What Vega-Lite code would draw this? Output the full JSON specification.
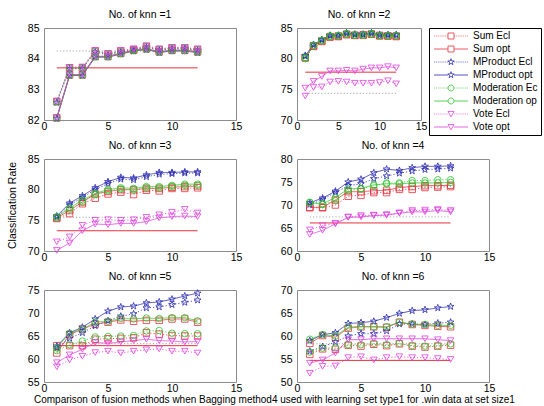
{
"$schema":"https://vega.github.io/schema/vega-lite/v6.json",
"padding":{"left":6,"top":9,"right":5,"bottom":3},
"background":"white",
"title":{"text":"Comparison of fusion methods when Bagging method4 used with learning set type1 for .win data at set size1","orient":"bottom","anchor":"middle","offset":1,"fontSize":10},
"config":{
 "font":"Liberation Sans",
 "view":{"stroke":"#8c8c8c","strokeWidth":1},
 "axis":{"labelFontSize":10.5,"labelColor":"#000","tickSize":0,"domain":false,"grid":false,"labelFlush":false,"titleFontSize":10.5,"titleFontWeight":"normal","titleColor":"#000"},
 "axisX":{"labelPadding":1},
 "axisY":{"labelPadding":5,"titlePadding":10},
 "title":{"fontSize":10.5,"fontWeight":"normal","color":"#000","offset":3},
 "legend":{"orient":"right","offset":8,"labelFontSize":10,"labelColor":"#000","symbolSize":36,"symbolStrokeWidth":0.8,"symbolOpacity":1,"symbolOffset":14,"labelOffset":17,"rowPadding":3,"padding":3,"fillColor":"#ffffff","strokeColor":"#000000"}
},
"datasets":{
"base":[
{"k":1,"t":"Ecl","x":1,"xe":12,"y":84.25},{"k":1,"t":"opt","x":1,"xe":12,"y":83.7},
{"k":2,"t":"Ecl","x":1,"xe":12,"y":74.35},{"k":2,"t":"opt","x":1,"xe":12,"y":77.8},
{"k":3,"t":"Ecl","x":1,"xe":12,"y":75.5},{"k":3,"t":"opt","x":1,"xe":12,"y":73.3},
{"k":4,"t":"Ecl","x":1,"xe":12,"y":67.4},{"k":4,"t":"opt","x":1,"xe":12,"y":66.1},
{"k":5,"t":"Ecl","x":1,"xe":12,"y":63.4},{"k":5,"t":"opt","x":1,"xe":12,"y":62.9},
{"k":6,"t":"Ecl","x":1,"xe":12,"y":58.3},{"k":6,"t":"opt","x":1,"xe":12,"y":54.7}
],
"pts":[
{"k":1,"s":"Sum Ecl","x":1,"y":82.6},{"k":1,"s":"Sum Ecl","x":2,"y":83.7},{"k":1,"s":"Sum Ecl","x":3,"y":83.7},{"k":1,"s":"Sum Ecl","x":4,"y":84.25},{"k":1,"s":"Sum Ecl","x":5,"y":84.15},{"k":1,"s":"Sum Ecl","x":6,"y":84.25},{"k":1,"s":"Sum Ecl","x":7,"y":84.3},{"k":1,"s":"Sum Ecl","x":8,"y":84.4},{"k":1,"s":"Sum Ecl","x":9,"y":84.3},{"k":1,"s":"Sum Ecl","x":10,"y":84.35},{"k":1,"s":"Sum Ecl","x":11,"y":84.35},{"k":1,"s":"Sum Ecl","x":12,"y":84.3},
{"k":1,"s":"Sum opt","x":1,"y":82.07},{"k":1,"s":"Sum opt","x":2,"y":83.47},{"k":1,"s":"Sum opt","x":3,"y":83.47},{"k":1,"s":"Sum opt","x":4,"y":84.07},{"k":1,"s":"Sum opt","x":5,"y":84.07},{"k":1,"s":"Sum opt","x":6,"y":84.17},{"k":1,"s":"Sum opt","x":7,"y":84.27},{"k":1,"s":"Sum opt","x":8,"y":84.32},{"k":1,"s":"Sum opt","x":9,"y":84.22},{"k":1,"s":"Sum opt","x":10,"y":84.27},{"k":1,"s":"Sum opt","x":11,"y":84.27},{"k":1,"s":"Sum opt","x":12,"y":84.22},
{"k":1,"s":"MProduct Ecl","x":1,"y":82.57},{"k":1,"s":"MProduct Ecl","x":2,"y":83.67},{"k":1,"s":"MProduct Ecl","x":3,"y":83.68},{"k":1,"s":"MProduct Ecl","x":4,"y":84.22},{"k":1,"s":"MProduct Ecl","x":5,"y":84.12},{"k":1,"s":"MProduct Ecl","x":6,"y":84.22},{"k":1,"s":"MProduct Ecl","x":7,"y":84.28},{"k":1,"s":"MProduct Ecl","x":8,"y":84.37},{"k":1,"s":"MProduct Ecl","x":9,"y":84.28},{"k":1,"s":"MProduct Ecl","x":10,"y":84.32},{"k":1,"s":"MProduct Ecl","x":11,"y":84.33},{"k":1,"s":"MProduct Ecl","x":12,"y":84.27},
{"k":1,"s":"MProduct opt","x":1,"y":82.05},{"k":1,"s":"MProduct opt","x":2,"y":83.45},{"k":1,"s":"MProduct opt","x":3,"y":83.45},{"k":1,"s":"MProduct opt","x":4,"y":84.05},{"k":1,"s":"MProduct opt","x":5,"y":84.05},{"k":1,"s":"MProduct opt","x":6,"y":84.15},{"k":1,"s":"MProduct opt","x":7,"y":84.25},{"k":1,"s":"MProduct opt","x":8,"y":84.3},{"k":1,"s":"MProduct opt","x":9,"y":84.2},{"k":1,"s":"MProduct opt","x":10,"y":84.25},{"k":1,"s":"MProduct opt","x":11,"y":84.25},{"k":1,"s":"MProduct opt","x":12,"y":84.2},
{"k":1,"s":"Moderation Ec","x":1,"y":82.59},{"k":1,"s":"Moderation Ec","x":2,"y":83.69},{"k":1,"s":"Moderation Ec","x":3,"y":83.7},{"k":1,"s":"Moderation Ec","x":4,"y":84.24},{"k":1,"s":"Moderation Ec","x":5,"y":84.14},{"k":1,"s":"Moderation Ec","x":6,"y":84.24},{"k":1,"s":"Moderation Ec","x":7,"y":84.29},{"k":1,"s":"Moderation Ec","x":8,"y":84.39},{"k":1,"s":"Moderation Ec","x":9,"y":84.29},{"k":1,"s":"Moderation Ec","x":10,"y":84.34},{"k":1,"s":"Moderation Ec","x":11,"y":84.34},{"k":1,"s":"Moderation Ec","x":12,"y":84.29},
{"k":1,"s":"Moderation op","x":1,"y":82.06},{"k":1,"s":"Moderation op","x":2,"y":83.46},{"k":1,"s":"Moderation op","x":3,"y":83.46},{"k":1,"s":"Moderation op","x":4,"y":84.06},{"k":1,"s":"Moderation op","x":5,"y":84.06},{"k":1,"s":"Moderation op","x":6,"y":84.16},{"k":1,"s":"Moderation op","x":7,"y":84.26},{"k":1,"s":"Moderation op","x":8,"y":84.31},{"k":1,"s":"Moderation op","x":9,"y":84.21},{"k":1,"s":"Moderation op","x":10,"y":84.26},{"k":1,"s":"Moderation op","x":11,"y":84.26},{"k":1,"s":"Moderation op","x":12,"y":84.21},
{"k":1,"s":"Vote Ecl","x":1,"y":82.62},{"k":1,"s":"Vote Ecl","x":2,"y":83.72},{"k":1,"s":"Vote Ecl","x":3,"y":83.73},{"k":1,"s":"Vote Ecl","x":4,"y":84.27},{"k":1,"s":"Vote Ecl","x":5,"y":84.17},{"k":1,"s":"Vote Ecl","x":6,"y":84.27},{"k":1,"s":"Vote Ecl","x":7,"y":84.32},{"k":1,"s":"Vote Ecl","x":8,"y":84.42},{"k":1,"s":"Vote Ecl","x":9,"y":84.32},{"k":1,"s":"Vote Ecl","x":10,"y":84.37},{"k":1,"s":"Vote Ecl","x":11,"y":84.37},{"k":1,"s":"Vote Ecl","x":12,"y":84.32},
{"k":1,"s":"Vote opt","x":1,"y":82.08},{"k":1,"s":"Vote opt","x":2,"y":83.48},{"k":1,"s":"Vote opt","x":3,"y":83.48},{"k":1,"s":"Vote opt","x":4,"y":84.08},{"k":1,"s":"Vote opt","x":5,"y":84.08},{"k":1,"s":"Vote opt","x":6,"y":84.18},{"k":1,"s":"Vote opt","x":7,"y":84.28},{"k":1,"s":"Vote opt","x":8,"y":84.33},{"k":1,"s":"Vote opt","x":9,"y":84.23},{"k":1,"s":"Vote opt","x":10,"y":84.28},{"k":1,"s":"Vote opt","x":11,"y":84.28},{"k":1,"s":"Vote opt","x":12,"y":84.23},
{"k":2,"s":"Sum Ecl","x":1,"y":80.1},{"k":2,"s":"Sum Ecl","x":2,"y":82.0},{"k":2,"s":"Sum Ecl","x":3,"y":82.8},{"k":2,"s":"Sum Ecl","x":4,"y":83.5},{"k":2,"s":"Sum Ecl","x":5,"y":83.6},{"k":2,"s":"Sum Ecl","x":6,"y":83.9},{"k":2,"s":"Sum Ecl","x":7,"y":83.8},{"k":2,"s":"Sum Ecl","x":8,"y":83.8},{"k":2,"s":"Sum Ecl","x":9,"y":84.0},{"k":2,"s":"Sum Ecl","x":10,"y":83.7},{"k":2,"s":"Sum Ecl","x":11,"y":83.7},{"k":2,"s":"Sum Ecl","x":12,"y":83.6},
{"k":2,"s":"Sum opt","x":1,"y":80.2},{"k":2,"s":"Sum opt","x":2,"y":82.1},{"k":2,"s":"Sum opt","x":3,"y":82.9},{"k":2,"s":"Sum opt","x":4,"y":83.6},{"k":2,"s":"Sum opt","x":5,"y":83.7},{"k":2,"s":"Sum opt","x":6,"y":84.0},{"k":2,"s":"Sum opt","x":7,"y":83.8},{"k":2,"s":"Sum opt","x":8,"y":83.9},{"k":2,"s":"Sum opt","x":9,"y":84.0},{"k":2,"s":"Sum opt","x":10,"y":83.8},{"k":2,"s":"Sum opt","x":11,"y":83.7},{"k":2,"s":"Sum opt","x":12,"y":83.7},
{"k":2,"s":"MProduct Ecl","x":1,"y":80.4},{"k":2,"s":"MProduct Ecl","x":2,"y":82.2},{"k":2,"s":"MProduct Ecl","x":3,"y":83.0},{"k":2,"s":"MProduct Ecl","x":4,"y":83.7},{"k":2,"s":"MProduct Ecl","x":5,"y":83.7},{"k":2,"s":"MProduct Ecl","x":6,"y":84.1},{"k":2,"s":"MProduct Ecl","x":7,"y":83.9},{"k":2,"s":"MProduct Ecl","x":8,"y":83.9},{"k":2,"s":"MProduct Ecl","x":9,"y":84.1},{"k":2,"s":"MProduct Ecl","x":10,"y":83.8},{"k":2,"s":"MProduct Ecl","x":11,"y":83.8},{"k":2,"s":"MProduct Ecl","x":12,"y":83.8},
{"k":2,"s":"MProduct opt","x":1,"y":80.5},{"k":2,"s":"MProduct opt","x":2,"y":82.3},{"k":2,"s":"MProduct opt","x":3,"y":83.1},{"k":2,"s":"MProduct opt","x":4,"y":83.8},{"k":2,"s":"MProduct opt","x":5,"y":83.8},{"k":2,"s":"MProduct opt","x":6,"y":84.2},{"k":2,"s":"MProduct opt","x":7,"y":84.0},{"k":2,"s":"MProduct opt","x":8,"y":84.0},{"k":2,"s":"MProduct opt","x":9,"y":84.2},{"k":2,"s":"MProduct opt","x":10,"y":83.9},{"k":2,"s":"MProduct opt","x":11,"y":83.9},{"k":2,"s":"MProduct opt","x":12,"y":83.9},
{"k":2,"s":"Moderation Ec","x":1,"y":80.0},{"k":2,"s":"Moderation Ec","x":2,"y":82.1},{"k":2,"s":"Moderation Ec","x":3,"y":82.9},{"k":2,"s":"Moderation Ec","x":4,"y":83.6},{"k":2,"s":"Moderation Ec","x":5,"y":83.7},{"k":2,"s":"Moderation Ec","x":6,"y":84.0},{"k":2,"s":"Moderation Ec","x":7,"y":83.8},{"k":2,"s":"Moderation Ec","x":8,"y":83.8},{"k":2,"s":"Moderation Ec","x":9,"y":84.0},{"k":2,"s":"Moderation Ec","x":10,"y":83.7},{"k":2,"s":"Moderation Ec","x":11,"y":83.7},{"k":2,"s":"Moderation Ec","x":12,"y":83.7},
{"k":2,"s":"Moderation op","x":1,"y":80.2},{"k":2,"s":"Moderation op","x":2,"y":82.2},{"k":2,"s":"Moderation op","x":3,"y":83.0},{"k":2,"s":"Moderation op","x":4,"y":83.7},{"k":2,"s":"Moderation op","x":5,"y":83.8},{"k":2,"s":"Moderation op","x":6,"y":84.1},{"k":2,"s":"Moderation op","x":7,"y":83.9},{"k":2,"s":"Moderation op","x":8,"y":83.9},{"k":2,"s":"Moderation op","x":9,"y":84.1},{"k":2,"s":"Moderation op","x":10,"y":83.8},{"k":2,"s":"Moderation op","x":11,"y":83.8},{"k":2,"s":"Moderation op","x":12,"y":83.8},
{"k":2,"s":"Vote Ecl","x":1,"y":73.9},{"k":2,"s":"Vote Ecl","x":2,"y":75.3},{"k":2,"s":"Vote Ecl","x":3,"y":75.4},{"k":2,"s":"Vote Ecl","x":4,"y":76.2},{"k":2,"s":"Vote Ecl","x":5,"y":76.3},{"k":2,"s":"Vote Ecl","x":6,"y":76.2},{"k":2,"s":"Vote Ecl","x":7,"y":76.0},{"k":2,"s":"Vote Ecl","x":8,"y":76.0},{"k":2,"s":"Vote Ecl","x":9,"y":76.0},{"k":2,"s":"Vote Ecl","x":10,"y":76.1},{"k":2,"s":"Vote Ecl","x":11,"y":76.4},{"k":2,"s":"Vote Ecl","x":12,"y":75.9},
{"k":2,"s":"Vote opt","x":1,"y":75.2},{"k":2,"s":"Vote opt","x":2,"y":76.3},{"k":2,"s":"Vote opt","x":3,"y":77.1},{"k":2,"s":"Vote opt","x":4,"y":78.0},{"k":2,"s":"Vote opt","x":5,"y":78.0},{"k":2,"s":"Vote opt","x":6,"y":78.1},{"k":2,"s":"Vote opt","x":7,"y":78.0},{"k":2,"s":"Vote opt","x":8,"y":78.3},{"k":2,"s":"Vote opt","x":9,"y":78.5},{"k":2,"s":"Vote opt","x":10,"y":78.5},{"k":2,"s":"Vote opt","x":11,"y":78.7},{"k":2,"s":"Vote opt","x":12,"y":78.5},
{"k":3,"s":"Sum Ecl","x":1,"y":75.3},{"k":3,"s":"Sum Ecl","x":2,"y":76.1},{"k":3,"s":"Sum Ecl","x":3,"y":77.7},{"k":3,"s":"Sum Ecl","x":4,"y":78.6},{"k":3,"s":"Sum Ecl","x":5,"y":79.3},{"k":3,"s":"Sum Ecl","x":6,"y":79.6},{"k":3,"s":"Sum Ecl","x":7,"y":79.2},{"k":3,"s":"Sum Ecl","x":8,"y":79.9},{"k":3,"s":"Sum Ecl","x":9,"y":79.8},{"k":3,"s":"Sum Ecl","x":10,"y":80.2},{"k":3,"s":"Sum Ecl","x":11,"y":80.2},{"k":3,"s":"Sum Ecl","x":12,"y":80.3},
{"k":3,"s":"Sum opt","x":1,"y":75.4},{"k":3,"s":"Sum opt","x":2,"y":76.6},{"k":3,"s":"Sum opt","x":3,"y":78.0},{"k":3,"s":"Sum opt","x":4,"y":79.3},{"k":3,"s":"Sum opt","x":5,"y":79.7},{"k":3,"s":"Sum opt","x":6,"y":80.0},{"k":3,"s":"Sum opt","x":7,"y":80.0},{"k":3,"s":"Sum opt","x":8,"y":80.2},{"k":3,"s":"Sum opt","x":9,"y":80.2},{"k":3,"s":"Sum opt","x":10,"y":80.4},{"k":3,"s":"Sum opt","x":11,"y":80.5},{"k":3,"s":"Sum opt","x":12,"y":80.6},
{"k":3,"s":"MProduct Ecl","x":1,"y":75.5},{"k":3,"s":"MProduct Ecl","x":2,"y":77.5},{"k":3,"s":"MProduct Ecl","x":3,"y":78.7},{"k":3,"s":"MProduct Ecl","x":4,"y":80.0},{"k":3,"s":"MProduct Ecl","x":5,"y":81.0},{"k":3,"s":"MProduct Ecl","x":6,"y":81.7},{"k":3,"s":"MProduct Ecl","x":7,"y":81.6},{"k":3,"s":"MProduct Ecl","x":8,"y":82.1},{"k":3,"s":"MProduct Ecl","x":9,"y":82.5},{"k":3,"s":"MProduct Ecl","x":10,"y":82.6},{"k":3,"s":"MProduct Ecl","x":11,"y":82.7},{"k":3,"s":"MProduct Ecl","x":12,"y":82.7},
{"k":3,"s":"MProduct opt","x":1,"y":75.7},{"k":3,"s":"MProduct opt","x":2,"y":77.8},{"k":3,"s":"MProduct opt","x":3,"y":79.0},{"k":3,"s":"MProduct opt","x":4,"y":80.3},{"k":3,"s":"MProduct opt","x":5,"y":81.3},{"k":3,"s":"MProduct opt","x":6,"y":82.0},{"k":3,"s":"MProduct opt","x":7,"y":81.9},{"k":3,"s":"MProduct opt","x":8,"y":82.4},{"k":3,"s":"MProduct opt","x":9,"y":82.8},{"k":3,"s":"MProduct opt","x":10,"y":82.8},{"k":3,"s":"MProduct opt","x":11,"y":82.9},{"k":3,"s":"MProduct opt","x":12,"y":82.9},
{"k":3,"s":"Moderation Ec","x":1,"y":75.4},{"k":3,"s":"Moderation Ec","x":2,"y":76.8},{"k":3,"s":"Moderation Ec","x":3,"y":78.0},{"k":3,"s":"Moderation Ec","x":4,"y":79.2},{"k":3,"s":"Moderation Ec","x":5,"y":79.8},{"k":3,"s":"Moderation Ec","x":6,"y":80.1},{"k":3,"s":"Moderation Ec","x":7,"y":79.9},{"k":3,"s":"Moderation Ec","x":8,"y":80.3},{"k":3,"s":"Moderation Ec","x":9,"y":80.3},{"k":3,"s":"Moderation Ec","x":10,"y":80.5},{"k":3,"s":"Moderation Ec","x":11,"y":80.7},{"k":3,"s":"Moderation Ec","x":12,"y":80.7},
{"k":3,"s":"Moderation op","x":1,"y":75.6},{"k":3,"s":"Moderation op","x":2,"y":77.0},{"k":3,"s":"Moderation op","x":3,"y":78.3},{"k":3,"s":"Moderation op","x":4,"y":79.4},{"k":3,"s":"Moderation op","x":5,"y":80.0},{"k":3,"s":"Moderation op","x":6,"y":80.3},{"k":3,"s":"Moderation op","x":7,"y":80.2},{"k":3,"s":"Moderation op","x":8,"y":80.5},{"k":3,"s":"Moderation op","x":9,"y":80.5},{"k":3,"s":"Moderation op","x":10,"y":80.7},{"k":3,"s":"Moderation op","x":11,"y":80.9},{"k":3,"s":"Moderation op","x":12,"y":80.9},
{"k":3,"s":"Vote Ecl","x":1,"y":71.5},{"k":3,"s":"Vote Ecl","x":2,"y":72.3},{"k":3,"s":"Vote Ecl","x":3,"y":74.2},{"k":3,"s":"Vote Ecl","x":4,"y":75.0},{"k":3,"s":"Vote Ecl","x":5,"y":75.1},{"k":3,"s":"Vote Ecl","x":6,"y":75.0},{"k":3,"s":"Vote Ecl","x":7,"y":75.1},{"k":3,"s":"Vote Ecl","x":8,"y":75.5},{"k":3,"s":"Vote Ecl","x":9,"y":75.9},{"k":3,"s":"Vote Ecl","x":10,"y":76.3},{"k":3,"s":"Vote Ecl","x":11,"y":76.8},{"k":3,"s":"Vote Ecl","x":12,"y":76.2},
{"k":3,"s":"Vote opt","x":1,"y":70.1},{"k":3,"s":"Vote opt","x":2,"y":71.3},{"k":3,"s":"Vote opt","x":3,"y":73.3},{"k":3,"s":"Vote opt","x":4,"y":74.4},{"k":3,"s":"Vote opt","x":5,"y":74.3},{"k":3,"s":"Vote opt","x":6,"y":74.5},{"k":3,"s":"Vote opt","x":7,"y":74.5},{"k":3,"s":"Vote opt","x":8,"y":74.8},{"k":3,"s":"Vote opt","x":9,"y":75.4},{"k":3,"s":"Vote opt","x":10,"y":75.6},{"k":3,"s":"Vote opt","x":11,"y":75.7},{"k":3,"s":"Vote opt","x":12,"y":75.6},
{"k":4,"s":"Sum Ecl","x":1,"y":69.4},{"k":4,"s":"Sum Ecl","x":2,"y":69.4},{"k":4,"s":"Sum Ecl","x":3,"y":70.0},{"k":4,"s":"Sum Ecl","x":4,"y":71.9},{"k":4,"s":"Sum Ecl","x":5,"y":72.1},{"k":4,"s":"Sum Ecl","x":6,"y":72.7},{"k":4,"s":"Sum Ecl","x":7,"y":72.7},{"k":4,"s":"Sum Ecl","x":8,"y":73.4},{"k":4,"s":"Sum Ecl","x":9,"y":73.4},{"k":4,"s":"Sum Ecl","x":10,"y":73.8},{"k":4,"s":"Sum Ecl","x":11,"y":73.9},{"k":4,"s":"Sum Ecl","x":12,"y":74.0},
{"k":4,"s":"Sum opt","x":1,"y":69.5},{"k":4,"s":"Sum opt","x":2,"y":69.5},{"k":4,"s":"Sum opt","x":3,"y":71.1},{"k":4,"s":"Sum opt","x":4,"y":72.9},{"k":4,"s":"Sum opt","x":5,"y":72.9},{"k":4,"s":"Sum opt","x":6,"y":73.1},{"k":4,"s":"Sum opt","x":7,"y":73.2},{"k":4,"s":"Sum opt","x":8,"y":73.8},{"k":4,"s":"Sum opt","x":9,"y":74.0},{"k":4,"s":"Sum opt","x":10,"y":74.2},{"k":4,"s":"Sum opt","x":11,"y":74.2},{"k":4,"s":"Sum opt","x":12,"y":74.3},
{"k":4,"s":"MProduct Ecl","x":1,"y":70.1},{"k":4,"s":"MProduct Ecl","x":2,"y":71.2},{"k":4,"s":"MProduct Ecl","x":3,"y":72.7},{"k":4,"s":"MProduct Ecl","x":4,"y":74.2},{"k":4,"s":"MProduct Ecl","x":5,"y":74.6},{"k":4,"s":"MProduct Ecl","x":6,"y":75.7},{"k":4,"s":"MProduct Ecl","x":7,"y":76.3},{"k":4,"s":"MProduct Ecl","x":8,"y":76.9},{"k":4,"s":"MProduct Ecl","x":9,"y":77.4},{"k":4,"s":"MProduct Ecl","x":10,"y":77.7},{"k":4,"s":"MProduct Ecl","x":11,"y":77.8},{"k":4,"s":"MProduct Ecl","x":12,"y":78.0},
{"k":4,"s":"MProduct opt","x":1,"y":70.5},{"k":4,"s":"MProduct opt","x":2,"y":71.5},{"k":4,"s":"MProduct opt","x":3,"y":73.0},{"k":4,"s":"MProduct opt","x":4,"y":75.0},{"k":4,"s":"MProduct opt","x":5,"y":75.6},{"k":4,"s":"MProduct opt","x":6,"y":77.0},{"k":4,"s":"MProduct opt","x":7,"y":77.8},{"k":4,"s":"MProduct opt","x":8,"y":77.5},{"k":4,"s":"MProduct opt","x":9,"y":78.1},{"k":4,"s":"MProduct opt","x":10,"y":78.4},{"k":4,"s":"MProduct opt","x":11,"y":78.4},{"k":4,"s":"MProduct opt","x":12,"y":78.5},
{"k":4,"s":"Moderation Ec","x":1,"y":70.6},{"k":4,"s":"Moderation Ec","x":2,"y":70.1},{"k":4,"s":"Moderation Ec","x":3,"y":71.0},{"k":4,"s":"Moderation Ec","x":4,"y":73.1},{"k":4,"s":"Moderation Ec","x":5,"y":73.5},{"k":4,"s":"Moderation Ec","x":6,"y":74.2},{"k":4,"s":"Moderation Ec","x":7,"y":74.8},{"k":4,"s":"Moderation Ec","x":8,"y":74.8},{"k":4,"s":"Moderation Ec","x":9,"y":75.3},{"k":4,"s":"Moderation Ec","x":10,"y":75.3},{"k":4,"s":"Moderation Ec","x":11,"y":75.5},{"k":4,"s":"Moderation Ec","x":12,"y":75.5},
{"k":4,"s":"Moderation op","x":1,"y":70.5},{"k":4,"s":"Moderation op","x":2,"y":70.3},{"k":4,"s":"Moderation op","x":3,"y":71.6},{"k":4,"s":"Moderation op","x":4,"y":73.5},{"k":4,"s":"Moderation op","x":5,"y":73.6},{"k":4,"s":"Moderation op","x":6,"y":74.4},{"k":4,"s":"Moderation op","x":7,"y":74.6},{"k":4,"s":"Moderation op","x":8,"y":74.6},{"k":4,"s":"Moderation op","x":9,"y":74.8},{"k":4,"s":"Moderation op","x":10,"y":74.8},{"k":4,"s":"Moderation op","x":11,"y":74.8},{"k":4,"s":"Moderation op","x":12,"y":74.9},
{"k":4,"s":"Vote Ecl","x":1,"y":64.6},{"k":4,"s":"Vote Ecl","x":2,"y":65.5},{"k":4,"s":"Vote Ecl","x":3,"y":66.0},{"k":4,"s":"Vote Ecl","x":4,"y":67.4},{"k":4,"s":"Vote Ecl","x":5,"y":67.7},{"k":4,"s":"Vote Ecl","x":6,"y":67.8},{"k":4,"s":"Vote Ecl","x":7,"y":67.9},{"k":4,"s":"Vote Ecl","x":8,"y":68.3},{"k":4,"s":"Vote Ecl","x":9,"y":68.8},{"k":4,"s":"Vote Ecl","x":10,"y":68.9},{"k":4,"s":"Vote Ecl","x":11,"y":69.0},{"k":4,"s":"Vote Ecl","x":12,"y":68.8},
{"k":4,"s":"Vote opt","x":1,"y":63.6},{"k":4,"s":"Vote opt","x":2,"y":64.5},{"k":4,"s":"Vote opt","x":3,"y":65.9},{"k":4,"s":"Vote opt","x":4,"y":67.3},{"k":4,"s":"Vote opt","x":5,"y":67.4},{"k":4,"s":"Vote opt","x":6,"y":67.7},{"k":4,"s":"Vote opt","x":7,"y":67.8},{"k":4,"s":"Vote opt","x":8,"y":68.2},{"k":4,"s":"Vote opt","x":9,"y":68.5},{"k":4,"s":"Vote opt","x":10,"y":68.5},{"k":4,"s":"Vote opt","x":11,"y":68.8},{"k":4,"s":"Vote opt","x":12,"y":68.5},
{"k":5,"s":"Sum Ecl","x":1,"y":62.9},{"k":5,"s":"Sum Ecl","x":2,"y":62.9},{"k":5,"s":"Sum Ecl","x":3,"y":62.9},{"k":5,"s":"Sum Ecl","x":4,"y":64.3},{"k":5,"s":"Sum Ecl","x":5,"y":64.4},{"k":5,"s":"Sum Ecl","x":6,"y":64.5},{"k":5,"s":"Sum Ecl","x":7,"y":64.6},{"k":5,"s":"Sum Ecl","x":8,"y":65.7},{"k":5,"s":"Sum Ecl","x":9,"y":65.4},{"k":5,"s":"Sum Ecl","x":10,"y":65.1},{"k":5,"s":"Sum Ecl","x":11,"y":65.0},{"k":5,"s":"Sum Ecl","x":12,"y":65.0},
{"k":5,"s":"Sum opt","x":1,"y":61.3},{"k":5,"s":"Sum opt","x":2,"y":65.3},{"k":5,"s":"Sum opt","x":3,"y":66.5},{"k":5,"s":"Sum opt","x":4,"y":67.6},{"k":5,"s":"Sum opt","x":5,"y":68.0},{"k":5,"s":"Sum opt","x":6,"y":68.5},{"k":5,"s":"Sum opt","x":7,"y":68.2},{"k":5,"s":"Sum opt","x":8,"y":68.4},{"k":5,"s":"Sum opt","x":9,"y":68.4},{"k":5,"s":"Sum opt","x":10,"y":68.7},{"k":5,"s":"Sum opt","x":11,"y":68.7},{"k":5,"s":"Sum opt","x":12,"y":68.0},
{"k":5,"s":"MProduct Ecl","x":1,"y":62.4},{"k":5,"s":"MProduct Ecl","x":2,"y":64.5},{"k":5,"s":"MProduct Ecl","x":3,"y":65.7},{"k":5,"s":"MProduct Ecl","x":4,"y":67.2},{"k":5,"s":"MProduct Ecl","x":5,"y":68.3},{"k":5,"s":"MProduct Ecl","x":6,"y":69.3},{"k":5,"s":"MProduct Ecl","x":7,"y":69.8},{"k":5,"s":"MProduct Ecl","x":8,"y":71.1},{"k":5,"s":"MProduct Ecl","x":9,"y":71.3},{"k":5,"s":"MProduct Ecl","x":10,"y":71.8},{"k":5,"s":"MProduct Ecl","x":11,"y":72.3},{"k":5,"s":"MProduct Ecl","x":12,"y":72.8},
{"k":5,"s":"MProduct opt","x":1,"y":62.8},{"k":5,"s":"MProduct opt","x":2,"y":65.7},{"k":5,"s":"MProduct opt","x":3,"y":66.9},{"k":5,"s":"MProduct opt","x":4,"y":68.7},{"k":5,"s":"MProduct opt","x":5,"y":70.4},{"k":5,"s":"MProduct opt","x":6,"y":71.3},{"k":5,"s":"MProduct opt","x":7,"y":71.5},{"k":5,"s":"MProduct opt","x":8,"y":72.2},{"k":5,"s":"MProduct opt","x":9,"y":72.4},{"k":5,"s":"MProduct opt","x":10,"y":73.0},{"k":5,"s":"MProduct opt","x":11,"y":73.7},{"k":5,"s":"MProduct opt","x":12,"y":74.3},
{"k":5,"s":"Moderation Ec","x":1,"y":61.8},{"k":5,"s":"Moderation Ec","x":2,"y":63.1},{"k":5,"s":"Moderation Ec","x":3,"y":63.9},{"k":5,"s":"Moderation Ec","x":4,"y":64.8},{"k":5,"s":"Moderation Ec","x":5,"y":64.9},{"k":5,"s":"Moderation Ec","x":6,"y":65.0},{"k":5,"s":"Moderation Ec","x":7,"y":65.1},{"k":5,"s":"Moderation Ec","x":8,"y":66.1},{"k":5,"s":"Moderation Ec","x":9,"y":66.2},{"k":5,"s":"Moderation Ec","x":10,"y":65.6},{"k":5,"s":"Moderation Ec","x":11,"y":65.5},{"k":5,"s":"Moderation Ec","x":12,"y":65.5},
{"k":5,"s":"Moderation op","x":1,"y":62.4},{"k":5,"s":"Moderation op","x":2,"y":65.6},{"k":5,"s":"Moderation op","x":3,"y":66.5},{"k":5,"s":"Moderation op","x":4,"y":68.0},{"k":5,"s":"Moderation op","x":5,"y":68.2},{"k":5,"s":"Moderation op","x":6,"y":68.8},{"k":5,"s":"Moderation op","x":7,"y":68.7},{"k":5,"s":"Moderation op","x":8,"y":68.9},{"k":5,"s":"Moderation op","x":9,"y":68.8},{"k":5,"s":"Moderation op","x":10,"y":69.0},{"k":5,"s":"Moderation op","x":11,"y":69.0},{"k":5,"s":"Moderation op","x":12,"y":68.3},
{"k":5,"s":"Vote Ecl","x":1,"y":58.3},{"k":5,"s":"Vote Ecl","x":2,"y":59.8},{"k":5,"s":"Vote Ecl","x":3,"y":60.6},{"k":5,"s":"Vote Ecl","x":4,"y":61.4},{"k":5,"s":"Vote Ecl","x":5,"y":61.7},{"k":5,"s":"Vote Ecl","x":6,"y":61.3},{"k":5,"s":"Vote Ecl","x":7,"y":61.7},{"k":5,"s":"Vote Ecl","x":8,"y":62.0},{"k":5,"s":"Vote Ecl","x":9,"y":62.2},{"k":5,"s":"Vote Ecl","x":10,"y":61.7},{"k":5,"s":"Vote Ecl","x":11,"y":61.7},{"k":5,"s":"Vote Ecl","x":12,"y":61.3},
{"k":5,"s":"Vote opt","x":1,"y":59.2},{"k":5,"s":"Vote opt","x":2,"y":60.9},{"k":5,"s":"Vote opt","x":3,"y":62.1},{"k":5,"s":"Vote opt","x":4,"y":63.6},{"k":5,"s":"Vote opt","x":5,"y":63.4},{"k":5,"s":"Vote opt","x":6,"y":63.7},{"k":5,"s":"Vote opt","x":7,"y":64.0},{"k":5,"s":"Vote opt","x":8,"y":64.3},{"k":5,"s":"Vote opt","x":9,"y":64.0},{"k":5,"s":"Vote opt","x":10,"y":63.9},{"k":5,"s":"Vote opt","x":11,"y":63.7},{"k":5,"s":"Vote opt","x":12,"y":63.8},
{"k":6,"s":"Sum Ecl","x":1,"y":56.0},{"k":6,"s":"Sum Ecl","x":2,"y":57.2},{"k":6,"s":"Sum Ecl","x":3,"y":57.1},{"k":6,"s":"Sum Ecl","x":4,"y":58.0},{"k":6,"s":"Sum Ecl","x":5,"y":57.8},{"k":6,"s":"Sum Ecl","x":6,"y":58.2},{"k":6,"s":"Sum Ecl","x":7,"y":57.9},{"k":6,"s":"Sum Ecl","x":8,"y":58.3},{"k":6,"s":"Sum Ecl","x":9,"y":57.8},{"k":6,"s":"Sum Ecl","x":10,"y":57.6},{"k":6,"s":"Sum Ecl","x":11,"y":57.8},{"k":6,"s":"Sum Ecl","x":12,"y":58.0},
{"k":6,"s":"Sum opt","x":1,"y":58.4},{"k":6,"s":"Sum opt","x":2,"y":60.1},{"k":6,"s":"Sum opt","x":3,"y":59.7},{"k":6,"s":"Sum opt","x":4,"y":61.7},{"k":6,"s":"Sum opt","x":5,"y":62.0},{"k":6,"s":"Sum opt","x":6,"y":62.0},{"k":6,"s":"Sum opt","x":7,"y":61.9},{"k":6,"s":"Sum opt","x":8,"y":63.0},{"k":6,"s":"Sum opt","x":9,"y":62.5},{"k":6,"s":"Sum opt","x":10,"y":62.3},{"k":6,"s":"Sum opt","x":11,"y":62.1},{"k":6,"s":"Sum opt","x":12,"y":62.0},
{"k":6,"s":"MProduct Ecl","x":1,"y":56.7},{"k":6,"s":"MProduct Ecl","x":2,"y":57.7},{"k":6,"s":"MProduct Ecl","x":3,"y":58.7},{"k":6,"s":"MProduct Ecl","x":4,"y":60.0},{"k":6,"s":"MProduct Ecl","x":5,"y":60.5},{"k":6,"s":"MProduct Ecl","x":6,"y":60.5},{"k":6,"s":"MProduct Ecl","x":7,"y":61.1},{"k":6,"s":"MProduct Ecl","x":8,"y":62.6},{"k":6,"s":"MProduct Ecl","x":9,"y":62.6},{"k":6,"s":"MProduct Ecl","x":10,"y":62.5},{"k":6,"s":"MProduct Ecl","x":11,"y":62.8},{"k":6,"s":"MProduct Ecl","x":12,"y":63.0},
{"k":6,"s":"MProduct opt","x":1,"y":59.0},{"k":6,"s":"MProduct opt","x":2,"y":60.3},{"k":6,"s":"MProduct opt","x":3,"y":60.7},{"k":6,"s":"MProduct opt","x":4,"y":62.7},{"k":6,"s":"MProduct opt","x":5,"y":62.9},{"k":6,"s":"MProduct opt","x":6,"y":63.2},{"k":6,"s":"MProduct opt","x":7,"y":64.0},{"k":6,"s":"MProduct opt","x":8,"y":64.9},{"k":6,"s":"MProduct opt","x":9,"y":65.5},{"k":6,"s":"MProduct opt","x":10,"y":65.7},{"k":6,"s":"MProduct opt","x":11,"y":66.1},{"k":6,"s":"MProduct opt","x":12,"y":66.4},
{"k":6,"s":"Moderation Ec","x":1,"y":56.5},{"k":6,"s":"Moderation Ec","x":2,"y":57.4},{"k":6,"s":"Moderation Ec","x":3,"y":57.4},{"k":6,"s":"Moderation Ec","x":4,"y":58.1},{"k":6,"s":"Moderation Ec","x":5,"y":58.1},{"k":6,"s":"Moderation Ec","x":6,"y":58.4},{"k":6,"s":"Moderation Ec","x":7,"y":58.1},{"k":6,"s":"Moderation Ec","x":8,"y":58.4},{"k":6,"s":"Moderation Ec","x":9,"y":57.9},{"k":6,"s":"Moderation Ec","x":10,"y":57.8},{"k":6,"s":"Moderation Ec","x":11,"y":57.9},{"k":6,"s":"Moderation Ec","x":12,"y":58.3},
{"k":6,"s":"Moderation op","x":1,"y":59.3},{"k":6,"s":"Moderation op","x":2,"y":60.3},{"k":6,"s":"Moderation op","x":3,"y":60.0},{"k":6,"s":"Moderation op","x":4,"y":61.9},{"k":6,"s":"Moderation op","x":5,"y":62.1},{"k":6,"s":"Moderation op","x":6,"y":62.0},{"k":6,"s":"Moderation op","x":7,"y":62.0},{"k":6,"s":"Moderation op","x":8,"y":63.0},{"k":6,"s":"Moderation op","x":9,"y":62.6},{"k":6,"s":"Moderation op","x":10,"y":62.5},{"k":6,"s":"Moderation op","x":11,"y":62.3},{"k":6,"s":"Moderation op","x":12,"y":62.3},
{"k":6,"s":"Vote Ecl","x":1,"y":51.9},{"k":6,"s":"Vote Ecl","x":2,"y":53.4},{"k":6,"s":"Vote Ecl","x":3,"y":53.5},{"k":6,"s":"Vote Ecl","x":4,"y":55.3},{"k":6,"s":"Vote Ecl","x":5,"y":55.5},{"k":6,"s":"Vote Ecl","x":6,"y":54.8},{"k":6,"s":"Vote Ecl","x":7,"y":55.3},{"k":6,"s":"Vote Ecl","x":8,"y":55.5},{"k":6,"s":"Vote Ecl","x":9,"y":55.3},{"k":6,"s":"Vote Ecl","x":10,"y":55.3},{"k":6,"s":"Vote Ecl","x":11,"y":55.1},{"k":6,"s":"Vote Ecl","x":12,"y":54.9},
{"k":6,"s":"Vote opt","x":1,"y":54.1},{"k":6,"s":"Vote opt","x":2,"y":54.8},{"k":6,"s":"Vote opt","x":3,"y":56.3},{"k":6,"s":"Vote opt","x":4,"y":59.2},{"k":6,"s":"Vote opt","x":5,"y":59.2},{"k":6,"s":"Vote opt","x":6,"y":59.4},{"k":6,"s":"Vote opt","x":7,"y":59.4},{"k":6,"s":"Vote opt","x":8,"y":59.4},{"k":6,"s":"Vote opt","x":9,"y":59.4},{"k":6,"s":"Vote opt","x":10,"y":59.4},{"k":6,"s":"Vote opt","x":11,"y":59.2},{"k":6,"s":"Vote opt","x":12,"y":59.0}
]},
"columns":2,
"spacing":{"row":39,"column":61},
"bounds":"flush",
"resolve":{"scale":{"x":"independent","y":"independent","color":"independent","stroke":"independent","shape":"independent","strokeDash":"independent"}},
"concat":[
{"title":"No. of knn =1","width":192,"height":92,
 "encoding":{"x":{"field":"x","type":"quantitative","scale":{"domain":[0,15],"nice":false},"axis":{"values":[0,5,10,15],"title":null}},"y":{"field":"y","type":"quantitative","scale":{"domain":[82,85],"nice":false,"zero":false},"axis":{"values":[82,83,84,85],"title":null}}},
 "layer":[
 {"data":{"name":"base"},"transform":[{"filter":"datum.k==1 && datum.t=='Ecl'"}],"mark":{"type":"rule","color":"#a8a8a8","strokeDash":[1.2,2],"strokeWidth":1},"encoding":{"x2":{"field":"xe"}}},
 {"data":{"name":"base"},"transform":[{"filter":"datum.k==1 && datum.t=='opt'"}],"mark":{"type":"rule","color":"#e8303c","strokeWidth":1},"encoding":{"x2":{"field":"xe"}}},
 {"data":{"name":"pts"},"transform":[{"filter":"datum.k==1"}],"mark":{"type":"line","strokeWidth":0.8},"encoding":{"stroke":{"field":"s","type":"nominal","scale":{"domain":["Sum Ecl","Sum opt","MProduct Ecl","MProduct opt","Moderation Ec","Moderation op","Vote Ecl","Vote opt"],"range":["#e8303c","#e8303c","#2a2ab0","#2a2ab0","#2ec82e","#2ec82e","#e040e0","#e040e0"]},"legend":null},"strokeDash":{"field":"s","type":"nominal","scale":{"domain":["Sum Ecl","Sum opt","MProduct Ecl","MProduct opt","Moderation Ec","Moderation op","Vote Ecl","Vote opt"],"range":[[1.2,2],[1,0],[1.2,2],[1,0],[1.2,2],[1,0],[1.2,2],[1,0]]},"legend":null}}},
 {"data":{"name":"pts"},"transform":[{"filter":"datum.k==1"}],"mark":{"type":"point","filled":false,"size":42,"strokeWidth":0.8,"opacity":1},"encoding":{"stroke":{"field":"s","type":"nominal","scale":{"domain":["Sum Ecl","Sum opt","MProduct Ecl","MProduct opt","Moderation Ec","Moderation op","Vote Ecl","Vote opt"],"range":["#e8303c","#e8303c","#2a2ab0","#2a2ab0","#2ec82e","#2ec82e","#e040e0","#e040e0"]},"legend":null},"shape":{"field":"s","type":"nominal","scale":{"domain":["Sum Ecl","Sum opt","MProduct Ecl","MProduct opt","Moderation Ec","Moderation op","Vote Ecl","Vote opt"],"range":["square","square","M0,-1.1L0.26,-0.36L1.05,-0.34L0.42,0.14L0.65,0.89L0,0.44L-0.65,0.89L-0.42,0.14L-1.05,-0.34L-0.26,-0.36Z","M0,-1.1L0.26,-0.36L1.05,-0.34L0.42,0.14L0.65,0.89L0,0.44L-0.65,0.89L-0.42,0.14L-1.05,-0.34L-0.26,-0.36Z","circle","circle","triangle-down","triangle-down"]},"legend":null}}}
]},
{"title":"No. of knn =2","width":124,"height":92,
 "encoding":{"x":{"field":"x","type":"quantitative","scale":{"domain":[0,15],"nice":false},"axis":{"values":[0,5,10,15],"title":null}},"y":{"field":"y","type":"quantitative","scale":{"domain":[70,85],"nice":false,"zero":false},"axis":{"values":[70,75,80,85],"title":null}}},
 "layer":[
 {"data":{"name":"base"},"transform":[{"filter":"datum.k==2 && datum.t=='Ecl'"}],"mark":{"type":"rule","color":"#a8a8a8","strokeDash":[1.2,2],"strokeWidth":1},"encoding":{"x2":{"field":"xe"}}},
 {"data":{"name":"base"},"transform":[{"filter":"datum.k==2 && datum.t=='opt'"}],"mark":{"type":"rule","color":"#e8303c","strokeWidth":1},"encoding":{"x2":{"field":"xe"}}},
 {"data":{"name":"pts"},"transform":[{"filter":"datum.k==2"}],"mark":{"type":"line","strokeWidth":0.8},"encoding":{"stroke":{"field":"s","type":"nominal","scale":{"domain":["Vote opt","Vote Ecl","Moderation op","Moderation Ec","MProduct opt","MProduct Ecl","Sum opt","Sum Ecl"],"range":["#e040e0","#e040e0","#2ec82e","#2ec82e","#2a2ab0","#2a2ab0","#e8303c","#e8303c"]},"legend":null},"strokeDash":{"field":"s","type":"nominal","scale":{"domain":["Vote opt","Vote Ecl","Moderation op","Moderation Ec","MProduct opt","MProduct Ecl","Sum opt","Sum Ecl"],"range":[[1,0],[1.2,2],[1,0],[1.2,2],[1,0],[1.2,2],[1,0],[1.2,2]]},"legend":null}}},
 {"data":{"name":"pts"},"transform":[{"filter":"datum.k==2 && (datum.s=='Sum Ecl' || datum.s=='Sum opt')"}],"mark":{"type":"point","filled":false,"size":42,"strokeWidth":0.8,"opacity":1,"shape":"square"},"encoding":{"stroke":{"field":"s","type":"nominal","scale":{"domain":["Vote opt","Vote Ecl","Moderation op","Moderation Ec","MProduct opt","MProduct Ecl","Sum opt","Sum Ecl"],"range":["#e040e0","#e040e0","#2ec82e","#2ec82e","#2a2ab0","#2a2ab0","#e8303c","#e8303c"]},"legend":null}}},
 {"data":{"name":"pts"},"transform":[{"filter":"datum.k==2 && (datum.s=='MProduct Ecl' || datum.s=='MProduct opt')"}],"mark":{"type":"point","filled":false,"size":42,"strokeWidth":0.8,"opacity":1,"shape":"M0,-1.1L0.26,-0.36L1.05,-0.34L0.42,0.14L0.65,0.89L0,0.44L-0.65,0.89L-0.42,0.14L-1.05,-0.34L-0.26,-0.36Z"},"encoding":{"stroke":{"field":"s","type":"nominal","scale":{"domain":["Vote opt","Vote Ecl","Moderation op","Moderation Ec","MProduct opt","MProduct Ecl","Sum opt","Sum Ecl"],"range":["#e040e0","#e040e0","#2ec82e","#2ec82e","#2a2ab0","#2a2ab0","#e8303c","#e8303c"]},"legend":null}}},
 {"data":{"name":"pts"},"transform":[{"filter":"datum.k==2 && (datum.s=='Moderation Ec' || datum.s=='Moderation op')"}],"mark":{"type":"point","filled":false,"size":42,"strokeWidth":0.8,"opacity":1,"shape":"circle"},"encoding":{"stroke":{"field":"s","type":"nominal","scale":{"domain":["Vote opt","Vote Ecl","Moderation op","Moderation Ec","MProduct opt","MProduct Ecl","Sum opt","Sum Ecl"],"range":["#e040e0","#e040e0","#2ec82e","#2ec82e","#2a2ab0","#2a2ab0","#e8303c","#e8303c"]},"legend":null}}},
 {"data":{"name":"pts"},"transform":[{"filter":"datum.k==2 && (datum.s=='Vote Ecl' || datum.s=='Vote opt')"}],"mark":{"type":"point","filled":false,"size":42,"strokeWidth":0.8,"opacity":1,"shape":"triangle-down"},"encoding":{"stroke":{"field":"s","type":"nominal","scale":{"domain":["Vote opt","Vote Ecl","Moderation op","Moderation Ec","MProduct opt","MProduct Ecl","Sum opt","Sum Ecl"],"range":["#e040e0","#e040e0","#2ec82e","#2ec82e","#2a2ab0","#2a2ab0","#e8303c","#e8303c"]},"legend":null}}},
 {"data":{"name":"pts"},"transform":[{"filter":"datum.k==2 && datum.x==1"}],"mark":{"type":"point","filled":false,"size":36,"strokeWidth":0.8,"opacity":0},"encoding":{
   "color":{"field":"s","type":"nominal","scale":{"domain":["Sum Ecl","Sum opt","MProduct Ecl","MProduct opt","Moderation Ec","Moderation op","Vote Ecl","Vote opt"],"range":["#e8303c","#e8303c","#2a2ab0","#2a2ab0","#2ec82e","#2ec82e","#e040e0","#e040e0"]},"legend":{"title":null}},
   "shape":{"field":"s","type":"nominal","scale":{"domain":["Sum Ecl","Sum opt","MProduct Ecl","MProduct opt","Moderation Ec","Moderation op","Vote Ecl","Vote opt"],"range":[
"M-5.6,0H-5.3M-4.9,0H-4.6M-4.2,0H-3.9M-3.5,0H-3.2M-2.8,0H-2.5M-2.1,0H-1.8M-1.4,0H-1.1M1.1,0H1.4M1.8,0H2.1M2.5,0H2.8M3.2,0H3.5M3.9,0H4.2M4.6,0H4.9M5.3,0H5.6M-1,-1H1V1H-1Z",
"M-5.67,0H-1M1,0H5.67M-1,-1H1V1H-1Z",
"M-5.6,0H-5.3M-4.9,0H-4.6M-4.2,0H-3.9M-3.5,0H-3.2M-2.8,0H-2.5M-2.1,0H-1.8M-1.4,0H-1.1M1.1,0H1.4M1.8,0H2.1M2.5,0H2.8M3.2,0H3.5M3.9,0H4.2M4.6,0H4.9M5.3,0H5.6M0,-1.1L0.26,-0.36L1.05,-0.34L0.42,0.14L0.65,0.89L0,0.44L-0.65,0.89L-0.42,0.14L-1.05,-0.34L-0.26,-0.36Z",
"M-5.67,0H-1M1,0H5.67M0,-1.1L0.26,-0.36L1.05,-0.34L0.42,0.14L0.65,0.89L0,0.44L-0.65,0.89L-0.42,0.14L-1.05,-0.34L-0.26,-0.36Z",
"M-5.6,0H-5.3M-4.9,0H-4.6M-4.2,0H-3.9M-3.5,0H-3.2M-2.8,0H-2.5M-2.1,0H-1.8M-1.4,0H-1.1M1.1,0H1.4M1.8,0H2.1M2.5,0H2.8M3.2,0H3.5M3.9,0H4.2M4.6,0H4.9M5.3,0H5.6M1,0A1,1,0,1,1,-1,0A1,1,0,1,1,1,0Z",
"M-5.67,0H-1M1,0H5.67M1,0A1,1,0,1,1,-1,0A1,1,0,1,1,1,0Z",
"M-5.6,0H-5.3M-4.9,0H-4.6M-4.2,0H-3.9M-3.5,0H-3.2M-2.8,0H-2.5M-2.1,0H-1.8M-1.4,0H-1.1M1.1,0H1.4M1.8,0H2.1M2.5,0H2.8M3.2,0H3.5M3.9,0H4.2M4.6,0H4.9M5.3,0H5.6M-1,-0.85H1L0,0.95Z",
"M-5.67,0H-1M1,0H5.67M-1,-0.85H1L0,0.95Z"]},"legend":{"title":null}}}}
]},
{"title":"No. of knn =3","width":192,"height":92,
 "encoding":{"x":{"field":"x","type":"quantitative","scale":{"domain":[0,15],"nice":false},"axis":{"values":[0,5,10,15],"title":null}},"y":{"field":"y","type":"quantitative","scale":{"domain":[70,85],"nice":false,"zero":false},"axis":{"values":[70,75,80,85],"title":"Classification Rate"}}},
 "layer":[
 {"data":{"name":"base"},"transform":[{"filter":"datum.k==3 && datum.t=='Ecl'"}],"mark":{"type":"rule","color":"#a8a8a8","strokeDash":[1.2,2],"strokeWidth":1},"encoding":{"x2":{"field":"xe"}}},
 {"data":{"name":"base"},"transform":[{"filter":"datum.k==3 && datum.t=='opt'"}],"mark":{"type":"rule","color":"#e8303c","strokeWidth":1},"encoding":{"x2":{"field":"xe"}}},
 {"data":{"name":"pts"},"transform":[{"filter":"datum.k==3"}],"mark":{"type":"line","strokeWidth":0.8},"encoding":{"stroke":{"field":"s","type":"nominal","scale":{"domain":["Sum Ecl","Sum opt","MProduct Ecl","MProduct opt","Moderation Ec","Moderation op","Vote Ecl","Vote opt"],"range":["#e8303c","#e8303c","#2a2ab0","#2a2ab0","#2ec82e","#2ec82e","#e040e0","#e040e0"]},"legend":null},"strokeDash":{"field":"s","type":"nominal","scale":{"domain":["Sum Ecl","Sum opt","MProduct Ecl","MProduct opt","Moderation Ec","Moderation op","Vote Ecl","Vote opt"],"range":[[1.2,2],[1,0],[1.2,2],[1,0],[1.2,2],[1,0],[1.2,2],[1,0]]},"legend":null}}},
 {"data":{"name":"pts"},"transform":[{"filter":"datum.k==3"}],"mark":{"type":"point","filled":false,"size":42,"strokeWidth":0.8,"opacity":1},"encoding":{"stroke":{"field":"s","type":"nominal","scale":{"domain":["Sum Ecl","Sum opt","MProduct Ecl","MProduct opt","Moderation Ec","Moderation op","Vote Ecl","Vote opt"],"range":["#e8303c","#e8303c","#2a2ab0","#2a2ab0","#2ec82e","#2ec82e","#e040e0","#e040e0"]},"legend":null},"shape":{"field":"s","type":"nominal","scale":{"domain":["Sum Ecl","Sum opt","MProduct Ecl","MProduct opt","Moderation Ec","Moderation op","Vote Ecl","Vote opt"],"range":["square","square","M0,-1.1L0.26,-0.36L1.05,-0.34L0.42,0.14L0.65,0.89L0,0.44L-0.65,0.89L-0.42,0.14L-1.05,-0.34L-0.26,-0.36Z","M0,-1.1L0.26,-0.36L1.05,-0.34L0.42,0.14L0.65,0.89L0,0.44L-0.65,0.89L-0.42,0.14L-1.05,-0.34L-0.26,-0.36Z","circle","circle","triangle-down","triangle-down"]},"legend":null}}}
]},
{"title":"No. of knn =4","width":192,"height":92,
 "encoding":{"x":{"field":"x","type":"quantitative","scale":{"domain":[0,15],"nice":false},"axis":{"values":[0,5,10,15],"title":null}},"y":{"field":"y","type":"quantitative","scale":{"domain":[60,80],"nice":false,"zero":false},"axis":{"values":[60,65,70,75,80],"title":null}}},
 "layer":[
 {"data":{"name":"base"},"transform":[{"filter":"datum.k==4 && datum.t=='Ecl'"}],"mark":{"type":"rule","color":"#a8a8a8","strokeDash":[1.2,2],"strokeWidth":1},"encoding":{"x2":{"field":"xe"}}},
 {"data":{"name":"base"},"transform":[{"filter":"datum.k==4 && datum.t=='opt'"}],"mark":{"type":"rule","color":"#e8303c","strokeWidth":1},"encoding":{"x2":{"field":"xe"}}},
 {"data":{"name":"pts"},"transform":[{"filter":"datum.k==4"}],"mark":{"type":"line","strokeWidth":0.8},"encoding":{"stroke":{"field":"s","type":"nominal","scale":{"domain":["Sum Ecl","Sum opt","MProduct Ecl","MProduct opt","Moderation Ec","Moderation op","Vote Ecl","Vote opt"],"range":["#e8303c","#e8303c","#2a2ab0","#2a2ab0","#2ec82e","#2ec82e","#e040e0","#e040e0"]},"legend":null},"strokeDash":{"field":"s","type":"nominal","scale":{"domain":["Sum Ecl","Sum opt","MProduct Ecl","MProduct opt","Moderation Ec","Moderation op","Vote Ecl","Vote opt"],"range":[[1.2,2],[1,0],[1.2,2],[1,0],[1.2,2],[1,0],[1.2,2],[1,0]]},"legend":null}}},
 {"data":{"name":"pts"},"transform":[{"filter":"datum.k==4"}],"mark":{"type":"point","filled":false,"size":42,"strokeWidth":0.8,"opacity":1},"encoding":{"stroke":{"field":"s","type":"nominal","scale":{"domain":["Sum Ecl","Sum opt","MProduct Ecl","MProduct opt","Moderation Ec","Moderation op","Vote Ecl","Vote opt"],"range":["#e8303c","#e8303c","#2a2ab0","#2a2ab0","#2ec82e","#2ec82e","#e040e0","#e040e0"]},"legend":null},"shape":{"field":"s","type":"nominal","scale":{"domain":["Sum Ecl","Sum opt","MProduct Ecl","MProduct opt","Moderation Ec","Moderation op","Vote Ecl","Vote opt"],"range":["square","square","M0,-1.1L0.26,-0.36L1.05,-0.34L0.42,0.14L0.65,0.89L0,0.44L-0.65,0.89L-0.42,0.14L-1.05,-0.34L-0.26,-0.36Z","M0,-1.1L0.26,-0.36L1.05,-0.34L0.42,0.14L0.65,0.89L0,0.44L-0.65,0.89L-0.42,0.14L-1.05,-0.34L-0.26,-0.36Z","circle","circle","triangle-down","triangle-down"]},"legend":null}}}
]},
{"title":"No. of knn =5","width":192,"height":92,
 "encoding":{"x":{"field":"x","type":"quantitative","scale":{"domain":[0,15],"nice":false},"axis":{"values":[0,5,10,15],"title":null}},"y":{"field":"y","type":"quantitative","scale":{"domain":[55,75],"nice":false,"zero":false},"axis":{"values":[55,60,65,70,75],"title":null}}},
 "layer":[
 {"data":{"name":"base"},"transform":[{"filter":"datum.k==5 && datum.t=='Ecl'"}],"mark":{"type":"rule","color":"#a8a8a8","strokeDash":[1.2,2],"strokeWidth":1},"encoding":{"x2":{"field":"xe"}}},
 {"data":{"name":"base"},"transform":[{"filter":"datum.k==5 && datum.t=='opt'"}],"mark":{"type":"rule","color":"#e8303c","strokeWidth":1},"encoding":{"x2":{"field":"xe"}}},
 {"data":{"name":"pts"},"transform":[{"filter":"datum.k==5"}],"mark":{"type":"line","strokeWidth":0.8},"encoding":{"stroke":{"field":"s","type":"nominal","scale":{"domain":["Sum Ecl","Sum opt","MProduct Ecl","MProduct opt","Moderation Ec","Moderation op","Vote Ecl","Vote opt"],"range":["#e8303c","#e8303c","#2a2ab0","#2a2ab0","#2ec82e","#2ec82e","#e040e0","#e040e0"]},"legend":null},"strokeDash":{"field":"s","type":"nominal","scale":{"domain":["Sum Ecl","Sum opt","MProduct Ecl","MProduct opt","Moderation Ec","Moderation op","Vote Ecl","Vote opt"],"range":[[1.2,2],[1,0],[1.2,2],[1,0],[1.2,2],[1,0],[1.2,2],[1,0]]},"legend":null}}},
 {"data":{"name":"pts"},"transform":[{"filter":"datum.k==5"}],"mark":{"type":"point","filled":false,"size":42,"strokeWidth":0.8,"opacity":1},"encoding":{"stroke":{"field":"s","type":"nominal","scale":{"domain":["Sum Ecl","Sum opt","MProduct Ecl","MProduct opt","Moderation Ec","Moderation op","Vote Ecl","Vote opt"],"range":["#e8303c","#e8303c","#2a2ab0","#2a2ab0","#2ec82e","#2ec82e","#e040e0","#e040e0"]},"legend":null},"shape":{"field":"s","type":"nominal","scale":{"domain":["Sum Ecl","Sum opt","MProduct Ecl","MProduct opt","Moderation Ec","Moderation op","Vote Ecl","Vote opt"],"range":["square","square","M0,-1.1L0.26,-0.36L1.05,-0.34L0.42,0.14L0.65,0.89L0,0.44L-0.65,0.89L-0.42,0.14L-1.05,-0.34L-0.26,-0.36Z","M0,-1.1L0.26,-0.36L1.05,-0.34L0.42,0.14L0.65,0.89L0,0.44L-0.65,0.89L-0.42,0.14L-1.05,-0.34L-0.26,-0.36Z","circle","circle","triangle-down","triangle-down"]},"legend":null}}}
]},
{"title":"No. of knn =6","width":192,"height":92,
 "encoding":{"x":{"field":"x","type":"quantitative","scale":{"domain":[0,15],"nice":false},"axis":{"values":[0,5,10,15],"title":null}},"y":{"field":"y","type":"quantitative","scale":{"domain":[50,70],"nice":false,"zero":false},"axis":{"values":[50,55,60,65,70],"title":null}}},
 "layer":[
 {"data":{"name":"base"},"transform":[{"filter":"datum.k==6 && datum.t=='Ecl'"}],"mark":{"type":"rule","color":"#a8a8a8","strokeDash":[1.2,2],"strokeWidth":1},"encoding":{"x2":{"field":"xe"}}},
 {"data":{"name":"base"},"transform":[{"filter":"datum.k==6 && datum.t=='opt'"}],"mark":{"type":"rule","color":"#e8303c","strokeWidth":1},"encoding":{"x2":{"field":"xe"}}},
 {"data":{"name":"pts"},"transform":[{"filter":"datum.k==6"}],"mark":{"type":"line","strokeWidth":0.8},"encoding":{"stroke":{"field":"s","type":"nominal","scale":{"domain":["Sum Ecl","Sum opt","MProduct Ecl","MProduct opt","Moderation Ec","Moderation op","Vote Ecl","Vote opt"],"range":["#e8303c","#e8303c","#2a2ab0","#2a2ab0","#2ec82e","#2ec82e","#e040e0","#e040e0"]},"legend":null},"strokeDash":{"field":"s","type":"nominal","scale":{"domain":["Sum Ecl","Sum opt","MProduct Ecl","MProduct opt","Moderation Ec","Moderation op","Vote Ecl","Vote opt"],"range":[[1.2,2],[1,0],[1.2,2],[1,0],[1.2,2],[1,0],[1.2,2],[1,0]]},"legend":null}}},
 {"data":{"name":"pts"},"transform":[{"filter":"datum.k==6"}],"mark":{"type":"point","filled":false,"size":42,"strokeWidth":0.8,"opacity":1},"encoding":{"stroke":{"field":"s","type":"nominal","scale":{"domain":["Sum Ecl","Sum opt","MProduct Ecl","MProduct opt","Moderation Ec","Moderation op","Vote Ecl","Vote opt"],"range":["#e8303c","#e8303c","#2a2ab0","#2a2ab0","#2ec82e","#2ec82e","#e040e0","#e040e0"]},"legend":null},"shape":{"field":"s","type":"nominal","scale":{"domain":["Sum Ecl","Sum opt","MProduct Ecl","MProduct opt","Moderation Ec","Moderation op","Vote Ecl","Vote opt"],"range":["square","square","M0,-1.1L0.26,-0.36L1.05,-0.34L0.42,0.14L0.65,0.89L0,0.44L-0.65,0.89L-0.42,0.14L-1.05,-0.34L-0.26,-0.36Z","M0,-1.1L0.26,-0.36L1.05,-0.34L0.42,0.14L0.65,0.89L0,0.44L-0.65,0.89L-0.42,0.14L-1.05,-0.34L-0.26,-0.36Z","circle","circle","triangle-down","triangle-down"]},"legend":null}}}
]}
]
}
